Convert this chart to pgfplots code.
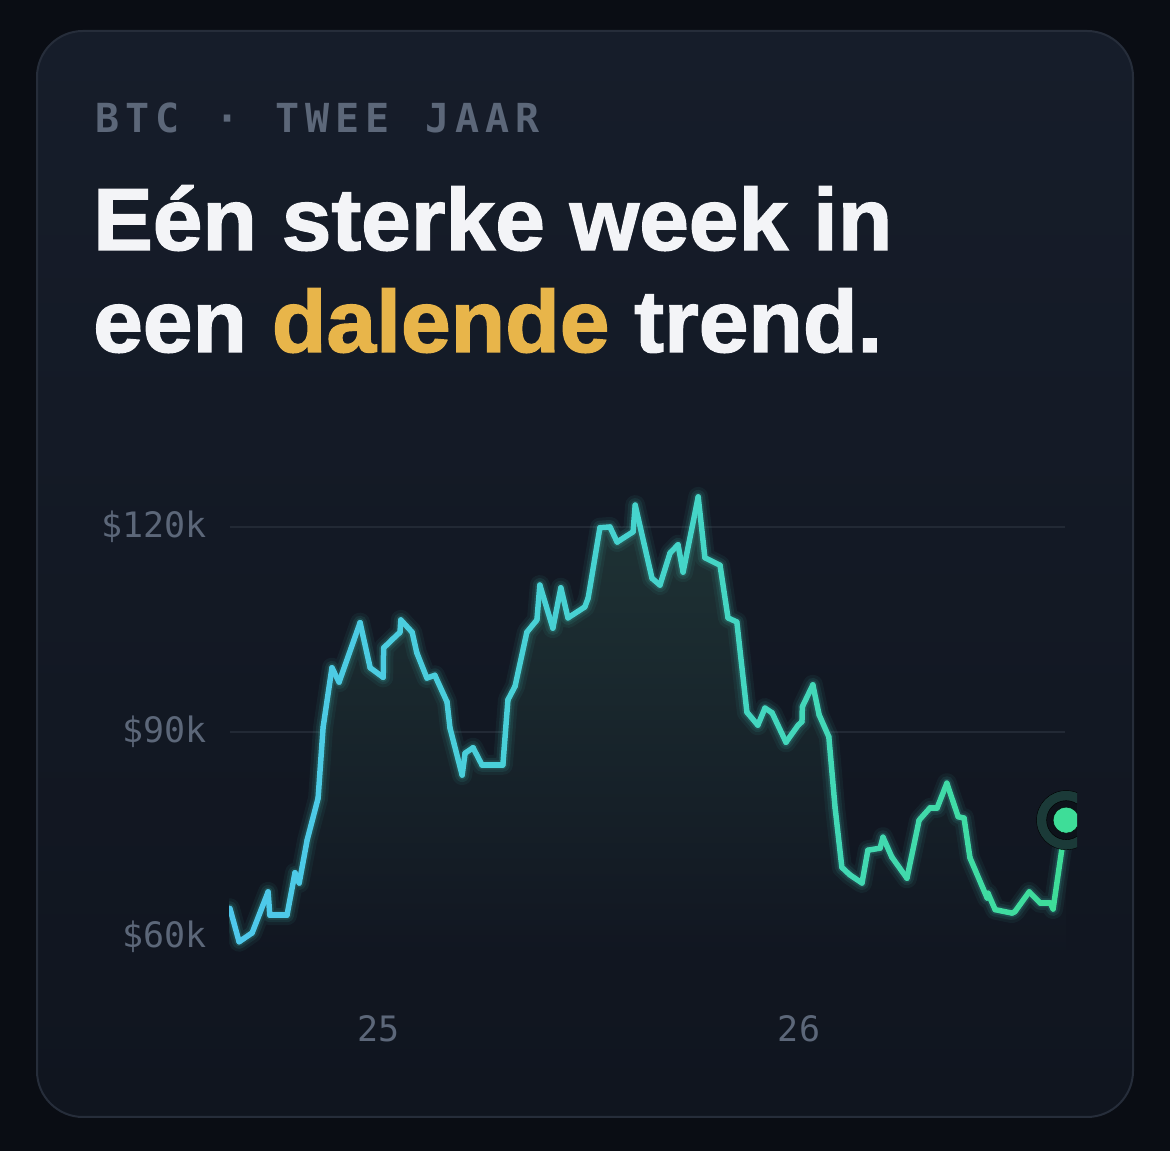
\documentclass[border=0pt]{standalone}
\usepackage{pgfplots}
\pgfplotsset{compat=1.18}
\usepackage{pgfplotstable}
\usepackage{fontspec}
\setmainfont{Liberation Sans}
\newfontfamily\mono{DejaVu Sans Mono}
\newfontfamily\titlefont{Liberation Sans Bold}[FakeBold=1.6, FakeStretch=1.015]

\definecolor{outerbg}{RGB}{10,13,20}
\definecolor{cardtop}{RGB}{22,29,42}
\definecolor{cardbot}{RGB}{16,21,31}
\definecolor{cardedge}{RGB}{38,45,58}
\definecolor{muted}{RGB}{92,103,121}
\definecolor{titlewhite}{RGB}{243,244,247}
\definecolor{gold}{RGB}{232,181,74}
\definecolor{gridc}{RGB}{34,41,53}
\definecolor{glowc}{RGB}{70,214,200}
\definecolor{filltop}{RGB}{31,52,54}
\definecolor{fillbot}{RGB}{17,22,33}
\definecolor{halo}{RGB}{27,58,56}
\definecolor{ring}{RGB}{13,18,26}
\definecolor{dotgreen}{RGB}{62,221,152}

% BTC price, x in years (25 = start of 2025), y in thousand dollars
\pgfplotstableread{
x y
24.645 64.2
24.667 59.3
24.698 60.6
24.736 66.6
24.740 63.2
24.781 63.2
24.800 69.4
24.810 67.9
24.829 74.2
24.855 80.3
24.867 90.7
24.888 99.4
24.905 97.3
24.955 106.0
24.979 99.4
25.010 98.0
25.011 102.3
25.031 103.5
25.050 104.6
25.052 106.4
25.079 104.6
25.090 101.6
25.114 97.9
25.133 98.3
25.162 94.4
25.169 90.6
25.198 83.7
25.205 86.9
25.224 87.7
25.245 85.2
25.295 85.2
25.307 94.7
25.324 96.7
25.352 104.6
25.376 106.4
25.383 111.5
25.414 105.2
25.433 111.1
25.450 106.7
25.490 108.3
25.498 109.6
25.526 119.9
25.550 120.0
25.567 117.8
25.605 119.3
25.610 123.2
25.650 112.5
25.669 111.5
25.693 116.2
25.712 117.4
25.724 113.4
25.760 124.4
25.776 115.5
25.812 114.4
25.831 106.7
25.852 106.1
25.876 92.9
25.902 91.0
25.919 93.5
25.936 92.8
25.969 88.5
25.998 91.0
26.007 91.5
26.008 93.7
26.033 96.9
26.048 92.5
26.071 89.3
26.086 78.9
26.102 70.2
26.121 69.1
26.150 67.9
26.164 72.7
26.193 73.0
26.200 74.6
26.221 71.7
26.257 68.6
26.286 77.1
26.312 78.9
26.329 78.9
26.352 82.5
26.379 77.6
26.393 77.4
26.407 71.6
26.448 65.7
26.450 66.4
26.467 64.0
26.507 63.5
26.514 63.7
26.548 66.6
26.574 65.0
26.598 65.0
26.605 64.1
26.629 74.2
26.636 77.1
}\btcdata

\begin{document}
\begin{tikzpicture}[x=1pt,y=1pt]
  % page and card
  \fill[outerbg] (0,0) rectangle (1170,1151);
  \shade[top color=cardtop, bottom color=cardbot, rounded corners=46pt]
    (37,34) rectangle (1133,1120);
  \draw[cardedge, line width=2pt, rounded corners=46pt]
    (37,34) rectangle (1133,1120);

  % overline, letter spaced
  \foreach \c [count=\i from 0] in {B,T,C,{},\textperiodcentered,{},T,W,E,E,{},J,A,A,R}
    \node[anchor=base west, inner sep=0pt, text=muted,
          font=\mono\bfseries\fontsize{40}{40}\selectfont] at (95+30*\i,1018) {\c};

  % title
  \node[anchor=base west, inner sep=0pt, text=titlewhite,
        font=\titlefont\fontsize{88}{100}\selectfont] at (93,901) {Eén sterke week in};
  \node[anchor=base west, inner sep=0pt, text=titlewhite,
        font=\titlefont\fontsize{88}{100}\selectfont] at (93,799)
        {een \textcolor{gold}{dalende} trend.};

  \begin{axis}[
    at={(229pt,193.5pt)}, anchor=south west,
    scale only axis,
    width=848pt, height=478.33pt,
    xmin=24.6429, xmax=26.6619,
    ymin=57, ymax=127,
    axis line style={draw=none},
    tick style={draw=none},
    xtick={25,26}, xticklabels={25,26},
    ytick={60,90,120}, yticklabels={\$60k,\$90k,\$120k},
    ticklabel style={text=muted, font=\mono\fontsize{35}{35}\selectfont, inner sep=0pt},
    yticklabel style={anchor=east, xshift=-22pt},
    xticklabel style={anchor=north, yshift=-58pt},
    clip marker paths=true,
  ]
    % grid lines
    \draw[gridc, line width=2pt] (axis cs:24.645,60) -- (axis cs:26.633,60);
    \draw[gridc, line width=2pt] (axis cs:24.645,90) -- (axis cs:26.633,90);
    \draw[gridc, line width=2pt] (axis cs:24.645,120) -- (axis cs:26.633,120);

    % area under the line
    \addplot[draw=none, top color=filltop, bottom color=fillbot]
      table[x=x, y=y] {\btcdata} \closedcycle;

    % soft glow
    \addplot[glowc, opacity=0.06, line width=20pt, line join=round, line cap=round]
      table[x=x, y=y] {\btcdata};
    \addplot[glowc, opacity=0.09, line width=14pt, line join=round, line cap=round]
      table[x=x, y=y] {\btcdata};
    \addplot[glowc, opacity=0.14, line width=9pt, line join=round, line cap=round]
      table[x=x, y=y] {\btcdata};

    % the line, coloured from blue to green
    \addplot[mesh, point meta=x, line width=5.5pt, line cap=round, line join=round,
      colormap={btc}{rgb255=(79,200,236) rgb255=(70,212,205) rgb255=(62,221,152)}]
      table[x=x, y=y] {\btcdata};

    % last price
    \addplot[only marks, mark=*, mark size=29.6pt, mark options={fill=halo, draw=none}]
      coordinates {(26.636,77.1)};
    \addplot[only marks, mark=*, mark size=19.5pt, mark options={fill=ring, draw=none}]
      coordinates {(26.636,77.1)};
    \addplot[only marks, mark=*, mark size=13pt, mark options={fill=dotgreen, draw=none}]
      coordinates {(26.636,77.1)};
  \end{axis}
\end{tikzpicture}
\end{document}
